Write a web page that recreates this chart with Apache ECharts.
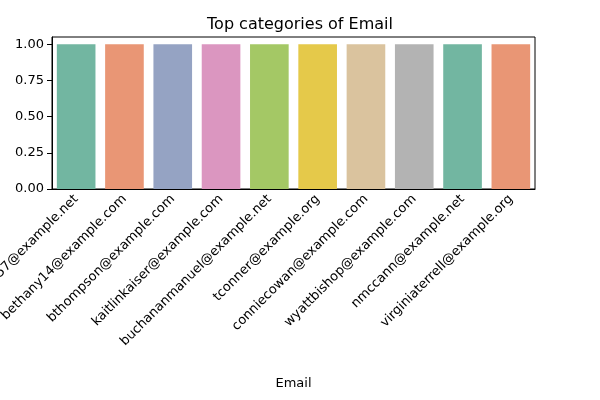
<!DOCTYPE html>
<html>
<head>
<meta charset="utf-8">
<script src="https://cdn.jsdelivr.net/npm/echarts@6/dist/echarts.min.js"></script>
<style>html,body{margin:0;padding:0;background:#fff}#chart{width:600px;height:400px}</style>
</head>
<body>
<div id="chart"></div>
<script>
const emails = ['elijah57@example.net', 'bethany14@example.com', 'bthompson@example.com', 'kaitlinkaiser@example.com',
  'buchananmanuel@example.net', 'tconner@example.org', 'conniecowan@example.com', 'wyattbishop@example.com',
  'nmccann@example.net', 'virginiaterrell@example.org'];
const counts = [1, 1, 1, 1, 1, 1, 1, 1, 1, 1];
const palette = ['#72b6a1', '#e99675', '#95a3c3', '#db96c0', '#a4c865', '#e5c94a', '#dac39e', '#b3b3b3', '#72b6a1', '#e99675'];

const chart = echarts.init(document.getElementById('chart'));
chart.setOption({
  animation: false,
  title: { text: 'Top categories of Email', left: 'center', top: 12,
    textStyle: { fontFamily: 'DejaVu Sans', fontSize: 16, fontWeight: 'normal', color: '#000' } },
  grid: { left: 52, right: 65, top: 37, bottom: 211, show: true, borderColor: '#000', borderWidth: 1,
    outerBoundsMode: 'none', containLabel: false },
  xAxis: {
    type: 'category', data: emails, name: 'Email', nameLocation: 'middle', nameGap: 188,
    nameTextStyle: { fontFamily: 'DejaVu Sans', fontSize: 13, color: '#000' },
    axisLine: { lineStyle: { color: '#000' } },
    axisTick: { alignWithLabel: true, lineStyle: { color: '#000' } },
    axisLabel: { rotate: 45, interval: 0, fontFamily: 'DejaVu Sans', fontSize: 13, color: '#000', margin: 8 }
  },
  yAxis: {
    type: 'value', min: 0, max: 1.05, interval: 0.25,
    axisLine: { show: true, lineStyle: { color: '#000' } },
    axisTick: { show: true, lineStyle: { color: '#000' } },
    splitLine: { show: false },
    axisLabel: { fontFamily: 'DejaVu Sans', fontSize: 13, color: '#000',
      formatter: v => v > 1.01 ? '' : v.toFixed(2), showMaxLabel: false }
  },
  series: [{
    type: 'bar', barWidth: '80%',
    data: counts.map((v, i) => ({ value: v, itemStyle: { color: palette[i] } }))
  }]
});
</script>
</body>
</html>
